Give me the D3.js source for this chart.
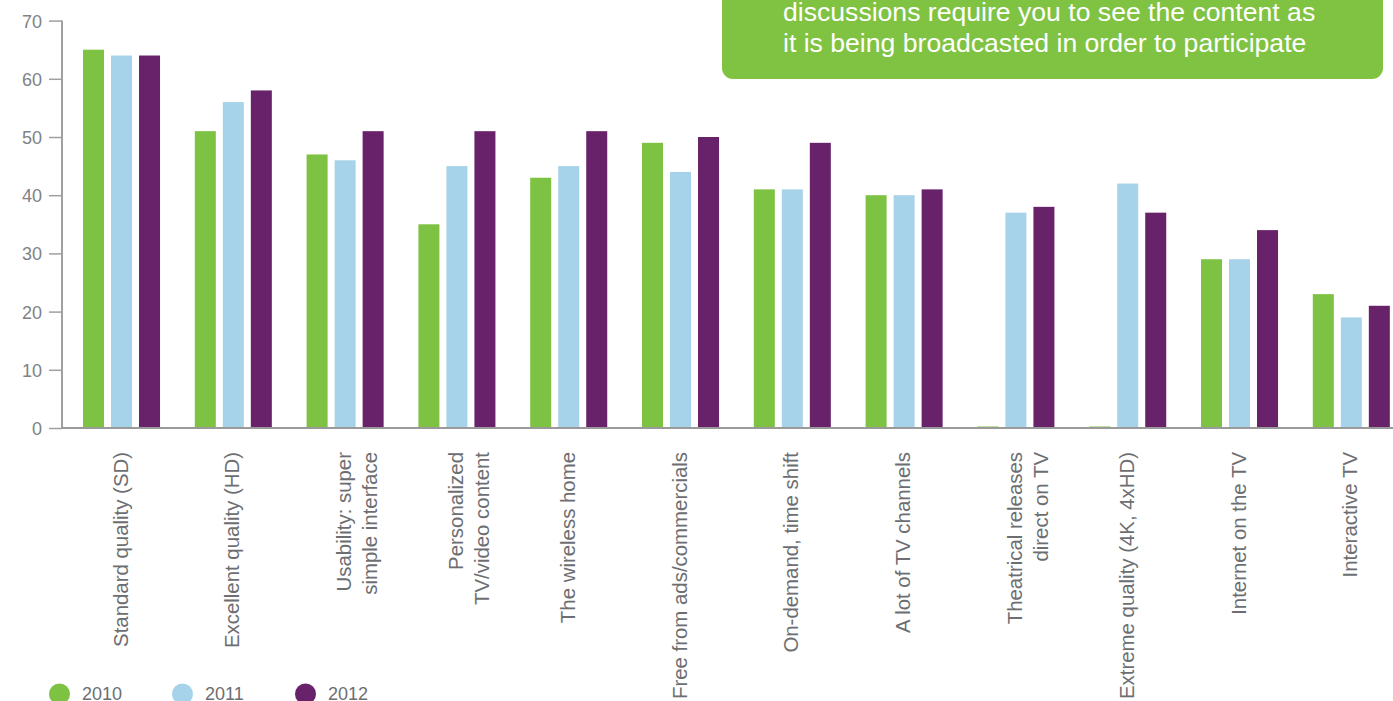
<!DOCTYPE html>
<html>
<head>
<meta charset="utf-8">
<script src="https://cdn.jsdelivr.net/npm/d3@7"></script>
<style>
  html, body { margin: 0; padding: 0; background: #fff; overflow: hidden; }
  svg { display: block; font-family: "Liberation Sans", Arial, Helvetica, sans-serif; }
</style>
</head>
<body>
<svg id="chart" width="1393" height="701"></svg>
<script>
// Features valued by TV viewers, share of respondents per survey year
const categories = [
  ["Standard quality (SD)"],
  ["Excellent quality (HD)"],
  ["Usability: super", "simple interface"],
  ["Personalized", "TV/video content"],
  ["The wireless home"],
  ["Free from ads/commercials"],
  ["On-demand, time shift"],
  ["A lot of TV channels"],
  ["Theatrical releases", "direct on TV"],
  ["Extreme quality (4K, 4xHD)"],
  ["Internet on the TV"],
  ["Interactive TV"]
];
const years = ["2010", "2011", "2012"];
const values2010 = [65, 51, 47, 35, 43, 49, 41, 40, 0, 0, 29, 23];
const values2011 = [64, 56, 46, 45, 45, 44, 41, 40, 37, 42, 29, 19];
const values2012 = [64, 58, 51, 51, 51, 50, 49, 41, 38, 37, 34, 21];
const yTicks = [0, 10, 20, 30, 40, 50, 60, 70];
const calloutLines = [
  "discussions require you to see the content as",
  "it is being broadcasted in order to participate"
];

const colors = ["#7dc242", "#a6d3e9", "#682269"];
const series = [values2010, values2011, values2012];
const textGray = "#6d6e71";

const svg = d3.select("#chart");

const axisX = 62, zeroY = 428, topY = 20.6;
const step = 111.8;
const groupStart = 83 - 0.1555 * step;

const y = d3.scaleLinear().domain([0, 70]).range([zeroY, topY]);
const x0 = d3.scaleBand()
  .domain(d3.range(categories.length))
  .range([groupStart, groupStart + categories.length * step])
  .paddingInner(0.311)
  .paddingOuter(0.1555);
const x1 = d3.scaleBand()
  .domain(d3.range(years.length))
  .range([0, x0.bandwidth()])
  .paddingInner(0.25);

// callout box at the top right
const callout = svg.append("g");
callout.append("rect")
  .attr("x", 722).attr("y", -30)
  .attr("width", 661).attr("height", 109)
  .attr("rx", 11).attr("ry", 11)
  .attr("fill", "#80c342");
callout.selectAll("text")
  .data(calloutLines)
  .join("text")
  .attr("x", 783)
  .attr("y", (d, i) => 21 + i * 30.5)
  .attr("fill", "#ffffff")
  .attr("font-size", 26.6)
  .text(d => d);

// y axis
const yAxis = d3.axisLeft(y).tickValues(yTicks).tickSize(13).tickPadding(7);
const gy = svg.append("g")
  .attr("transform", `translate(${axisX},0)`)
  .call(yAxis);
gy.select(".domain")
  .attr("d", `M0,${topY}V${zeroY}`)
  .attr("stroke", "#808080").attr("stroke-width", 1.5);
gy.selectAll(".tick line").attr("stroke", "#a0a0a0").attr("stroke-width", 1.5);
gy.selectAll(".tick text")
  .attr("fill", "#808285")
  .attr("font-size", 18)
  .attr("font-family", "Liberation Sans, Arial, sans-serif")
  .attr("dy", "0.36em");

// bars
const groups = svg.append("g")
  .selectAll("g")
  .data(categories.map((c, i) => i))
  .join("g")
  .attr("transform", i => `translate(${x0(i)},0)`);

groups.selectAll("rect")
  .data(i => series.map((s, k) => ({ k, v: s[i] })))
  .join("rect")
  .attr("x", d => x1(d.k))
  .attr("width", x1.bandwidth())
  .attr("y", d => Math.min(y(d.v), zeroY - 1.5))
  .attr("height", d => Math.max(zeroY - y(d.v), 1.5))
  .attr("fill", d => colors[d.k]);

// baseline
svg.append("line")
  .attr("x1", axisX).attr("x2", 1393)
  .attr("y1", zeroY).attr("y2", zeroY)
  .attr("stroke", "#9a9a9a").attr("stroke-width", 1.8);

// rotated category labels
const labels = svg.append("g")
  .selectAll("text")
  .data(categories.map((c, i) => ({ c, i })))
  .join("text")
  .attr("transform", d => `translate(${x0(d.i) + x0.bandwidth() / 2 + 6},452) rotate(-90)`)
  .attr("text-anchor", "end")
  .attr("fill", textGray)
  .attr("font-size", 20.4);
labels.selectAll("tspan")
  .data(d => d.c)
  .join("tspan")
  .attr("x", 0)
  .attr("y", (t, j) => j * 26)
  .text(t => t);

// legend
const legend = svg.append("g")
  .selectAll("g")
  .data(years)
  .join("g")
  .attr("transform", (d, i) => `translate(${59.5 + i * 123},694)`);
legend.append("circle").attr("r", 10.5).attr("fill", (d, i) => colors[i]);
legend.append("text")
  .attr("x", 22.5).attr("y", 6)
  .attr("fill", textGray)
  .attr("font-size", 18)
  .text(d => d);
</script>
</body>
</html>
